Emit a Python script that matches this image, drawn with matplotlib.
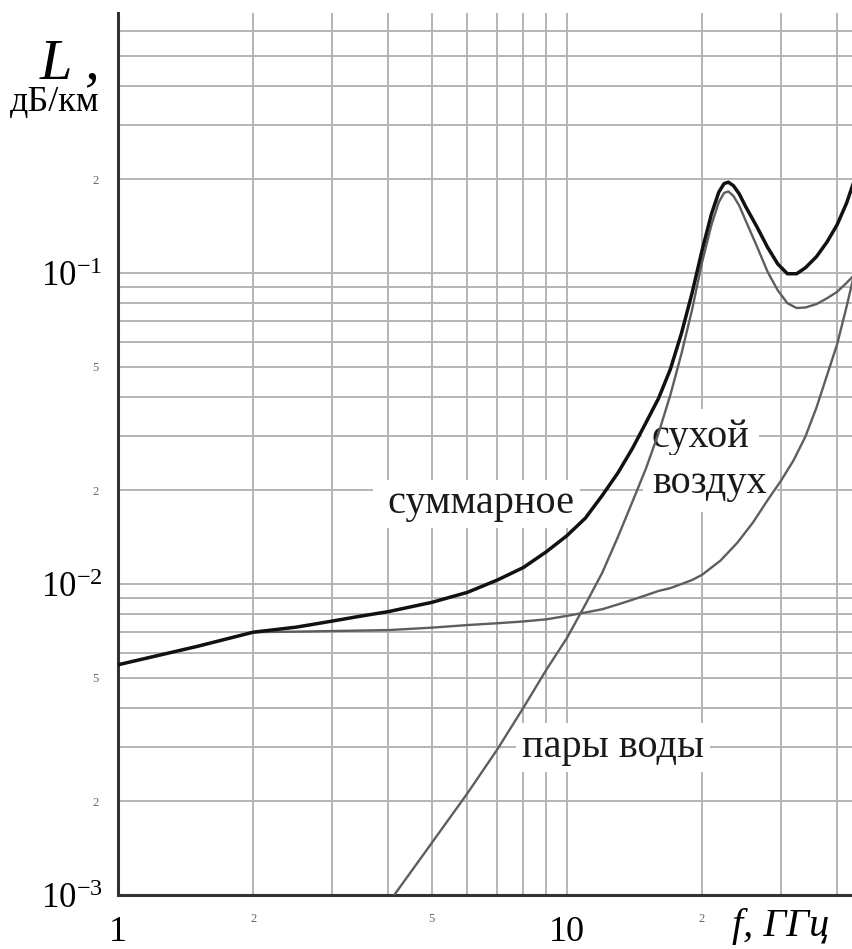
import matplotlib.pyplot as plt

plt.rcParams['font.family'] = ['Liberation Serif', 'DejaVu Serif']

# values (f in GHz, L in dB/km)
freq_total = [1, 1.5, 2, 2.5, 3, 3.5, 4, 5, 6, 7, 8, 9, 10, 11, 12, 13, 14, 15,
              16, 17, 18, 19, 20, 21, 21.8, 22.4, 22.9, 23.5, 24.2, 25, 26.5,
              28, 29.5, 31, 32.5, 34, 36, 38, 40, 42, 43.5]
loss_total = [0.0055, 0.0063, 0.0070, 0.00727, 0.0076, 0.0079, 0.00815,
              0.00873, 0.0094, 0.0103, 0.0113, 0.0127, 0.0143, 0.0163, 0.0193,
              0.0228, 0.0273, 0.0330, 0.0395, 0.049, 0.064, 0.086, 0.118,
              0.155, 0.182, 0.194, 0.196, 0.191, 0.180, 0.164, 0.141, 0.121,
              0.107, 0.0995, 0.0995, 0.104, 0.113, 0.126, 0.143, 0.168, 0.195]

freq_dry = [1, 1.5, 2, 2.5, 3, 4, 5, 6, 7, 8, 9, 10, 11, 12, 13, 14, 15, 16,
            17, 18, 19, 20, 22, 24, 26, 28, 30, 32, 34, 36, 38, 40, 42, 43.5]
loss_dry = [0.0055, 0.0063, 0.0070, 0.00703, 0.00706, 0.00711, 0.00724,
            0.00738, 0.00748, 0.00758, 0.0077, 0.0079, 0.0081, 0.0083, 0.0086,
            0.0089, 0.0092, 0.0095, 0.0097, 0.0100, 0.0103, 0.0107, 0.0119,
            0.0136, 0.0158, 0.0186, 0.0215, 0.0250, 0.0298, 0.037, 0.047,
            0.059, 0.078, 0.097]

freq_water = [4, 5, 6, 7, 8, 9, 10, 11, 12, 13, 14, 15, 16, 17, 18, 19, 20,
              21, 21.8, 22.4, 22.9, 23.5, 24.2, 25, 26.5, 28, 29.5, 31, 32.5,
              34, 36, 38, 40, 42, 43.5]
loss_water = [0.00094, 0.00147, 0.00212, 0.00294, 0.0040, 0.0053, 0.0067,
              0.0086, 0.0109, 0.0142, 0.0184, 0.0235, 0.0305, 0.0405, 0.055,
              0.076, 0.108, 0.143, 0.169, 0.181, 0.183, 0.177, 0.165, 0.148,
              0.122, 0.101, 0.088, 0.080, 0.0772, 0.0775, 0.0795, 0.083,
              0.087, 0.093, 0.098]

x_major = [1, 10]
x_major_labels = ['1', '10']
x_minor = [2, 3, 4, 5, 6, 7, 8, 9, 20, 30, 40]
x_minor_labels = ['2', '', '', '5', '', '', '', '', '2', '', '']

y_major = [1e-3, 1e-2, 1e-1]
y_major_labels = [r'$\mathregular{10^{-3}}$', r'$\mathregular{10^{-2}}$',
                  r'$\mathregular{10^{-1}}$']
y_minor = ([k * 1e-3 for k in range(2, 10)] + [k * 1e-2 for k in range(2, 10)]
           + [k * 1e-1 for k in range(2, 7)])
y_minor_labels = (['2', '', '', '5', '', '', '', ''] * 2
                  + ['2', '', '', '', ''])

fig = plt.figure(figsize=(8.53, 9.49), dpi=100)
ax = fig.add_axes([118 / 853, 1 - 895 / 949, 735 / 853, 882 / 949])
ax.set_xscale('log')
ax.set_yscale('log')

ax.set_xticks(x_major, x_major_labels)
ax.set_xticks(x_minor, x_minor_labels, minor=True)
ax.set_yticks(y_major, y_major_labels)
ax.set_yticks(y_minor, y_minor_labels, minor=True)
ax.set_xlim(1, 43.4)
ax.set_ylim(1e-3, 0.686)
ax.tick_params(which='both', length=0)
ax.tick_params(axis='x', which='major', labelsize=26, pad=15)
ax.tick_params(axis='x', which='minor', labelsize=9, labelcolor='#666666', pad=13)
ax.tick_params(axis='y', which='major', labelsize=25, pad=11)
ax.tick_params(axis='y', which='minor', labelsize=9, labelcolor='#666666', pad=14)

ax.grid(True, which='both', color='#b4b4b4', lw=1.4)
ax.set_axisbelow(True)
for side in ['top', 'right']:
    ax.spines[side].set_visible(False)
for side in ['left', 'bottom']:
    ax.spines[side].set_linewidth(2.2)
    ax.spines[side].set_color('#333333')

ax.plot(freq_dry, loss_dry, color='#5e5e5e', lw=1.7, zorder=3)
ax.plot(freq_water, loss_water, color='#5e5e5e', lw=1.7, zorder=3)
ax.plot(freq_total, loss_total, color='#111111', lw=2.5, zorder=4)

box = dict(facecolor='white', edgecolor='none', pad=4)
ax.text(3.8, 0.0169, ' суммарное', fontsize=29, ha='left', va='baseline',
        color='#1a1a1a', bbox=box, zorder=2)
ax.text(15.46, 0.0276, 'сухой', fontsize=29, ha='left', va='baseline',
        color='#1a1a1a', bbox=dict(facecolor='white', edgecolor='none', pad=7),
        zorder=2)
ax.text(15.5, 0.0196, 'воздух', fontsize=29, ha='left', va='baseline',
        color='#1a1a1a', bbox=dict(facecolor='white', edgecolor='none', pad=7),
        zorder=2)
ax.text(7.94, 0.00278, 'пары воды', fontsize=29, ha='left', va='baseline',
        color='#1a1a1a', bbox=box, zorder=2)

fig.text(40 / 853, 1 - 78 / 949, 'L ,', fontsize=42, style='italic',
         ha='left', va='baseline')
fig.text(10 / 853, 1 - 111 / 949, 'дБ/км', fontsize=26, ha='left', va='baseline')
fig.text(732 / 853, 1 - 936 / 949, 'f, ГГц', fontsize=29, style='italic',
         ha='left', va='baseline')

fig.savefig('out.png', dpi=100)
